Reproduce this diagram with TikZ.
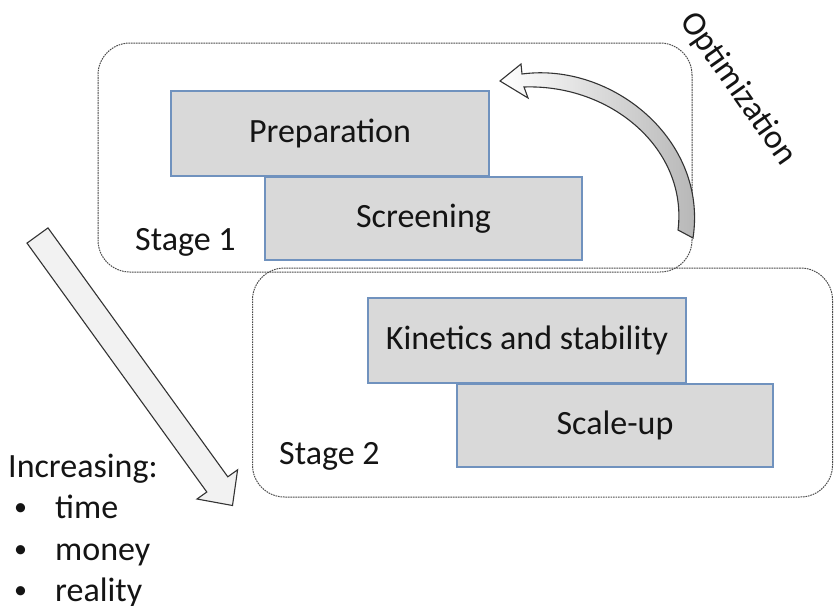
\documentclass[tikz,border=0pt]{standalone}
\usepackage{fontspec}
\setmainfont{Carlito}
\definecolor{taskedge}{RGB}{112,146,190}
\begin{document}
\begin{tikzpicture}[x=1pt,y=-1pt,
  every node/.style={font=\fontsize{34}{41}\selectfont, text=black!92},
  stagebox/.style={draw=black!70, line width=1pt, dash pattern=on 1.6pt off 0.9pt, rounded corners=32pt, inner sep=0pt, outer sep=0pt},
  taskbox/.style={draw=taskedge, fill=black!15, line width=1.2pt, inner sep=0pt, outer sep=0pt},
  blockarrow/.style={draw=black!80, line width=1.1pt, line join=miter}
]
\useasboundingbox (0,0) rectangle (834,605);
% stage frames
\node[stagebox, minimum width=594pt, minimum height=229pt] (stage1) at (395,157.5) {};
\node[stagebox, minimum width=580pt, minimum height=229pt] (stage2) at (542.5,382.5) {};
% task boxes
\node[taskbox, minimum width=318pt, minimum height=85pt] (prep) at (330,133.5) {Preparation};
\node[taskbox, minimum width=317pt, minimum height=83pt] (screen) at (423.5,218.5) {Screening};
\node[taskbox, minimum width=318pt, minimum height=85pt] (kin) at (527,340.5) {Kinetics and stability};
\node[taskbox, minimum width=316pt, minimum height=83pt] (scale) at (615,425.5) {Scale-up};
% stage labels
\node[anchor=base west, inner sep=0pt] (s1) at (135,250) {Stage 1};
\node[anchor=base west, inner sep=0pt] (s2) at (279,464) {Stage 2};
% optimization curved arrow
\path[blockarrow, left color=white, right color=black!30]
  (500,81) -- (521,64) -- (522,74)
  .. controls (612,62) and (708,140) .. (693,238)
  -- (678,230)
  .. controls (688,150) and (612,84) .. (524,87)
  -- (528,98) -- cycle;
\node[rotate=-55, inner sep=0pt] (opt) at (738,89) {Optimization};
% big diagonal arrow
\path[blockarrow, fill=black!5]
  (48.0,227.9) -- (227.8,476.8) -- (237.6,469.8) -- (232.5,505.5)
  -- (197.0,499.0) -- (206.8,492.0) -- (27.0,243.1) -- cycle;
% legend
\node[anchor=base west, inner sep=0pt] (inc) at (8,477) {Increasing:};
\node[anchor=base west, inner sep=0pt, font=\fontsize{26}{30}\selectfont] (b1) at (14,515) {•};
\node[anchor=base west, inner sep=0pt] (t1) at (55,518) {time};
\node[anchor=base west, inner sep=0pt, font=\fontsize{26}{30}\selectfont] (b2) at (14,557) {•};
\node[anchor=base west, inner sep=0pt] (t2) at (55,560) {money};
\node[anchor=base west, inner sep=0pt, font=\fontsize{26}{30}\selectfont] (b3) at (14,598) {•};
\node[anchor=base west, inner sep=0pt] (t3) at (55,601) {reality};
\end{tikzpicture}
\end{document}
